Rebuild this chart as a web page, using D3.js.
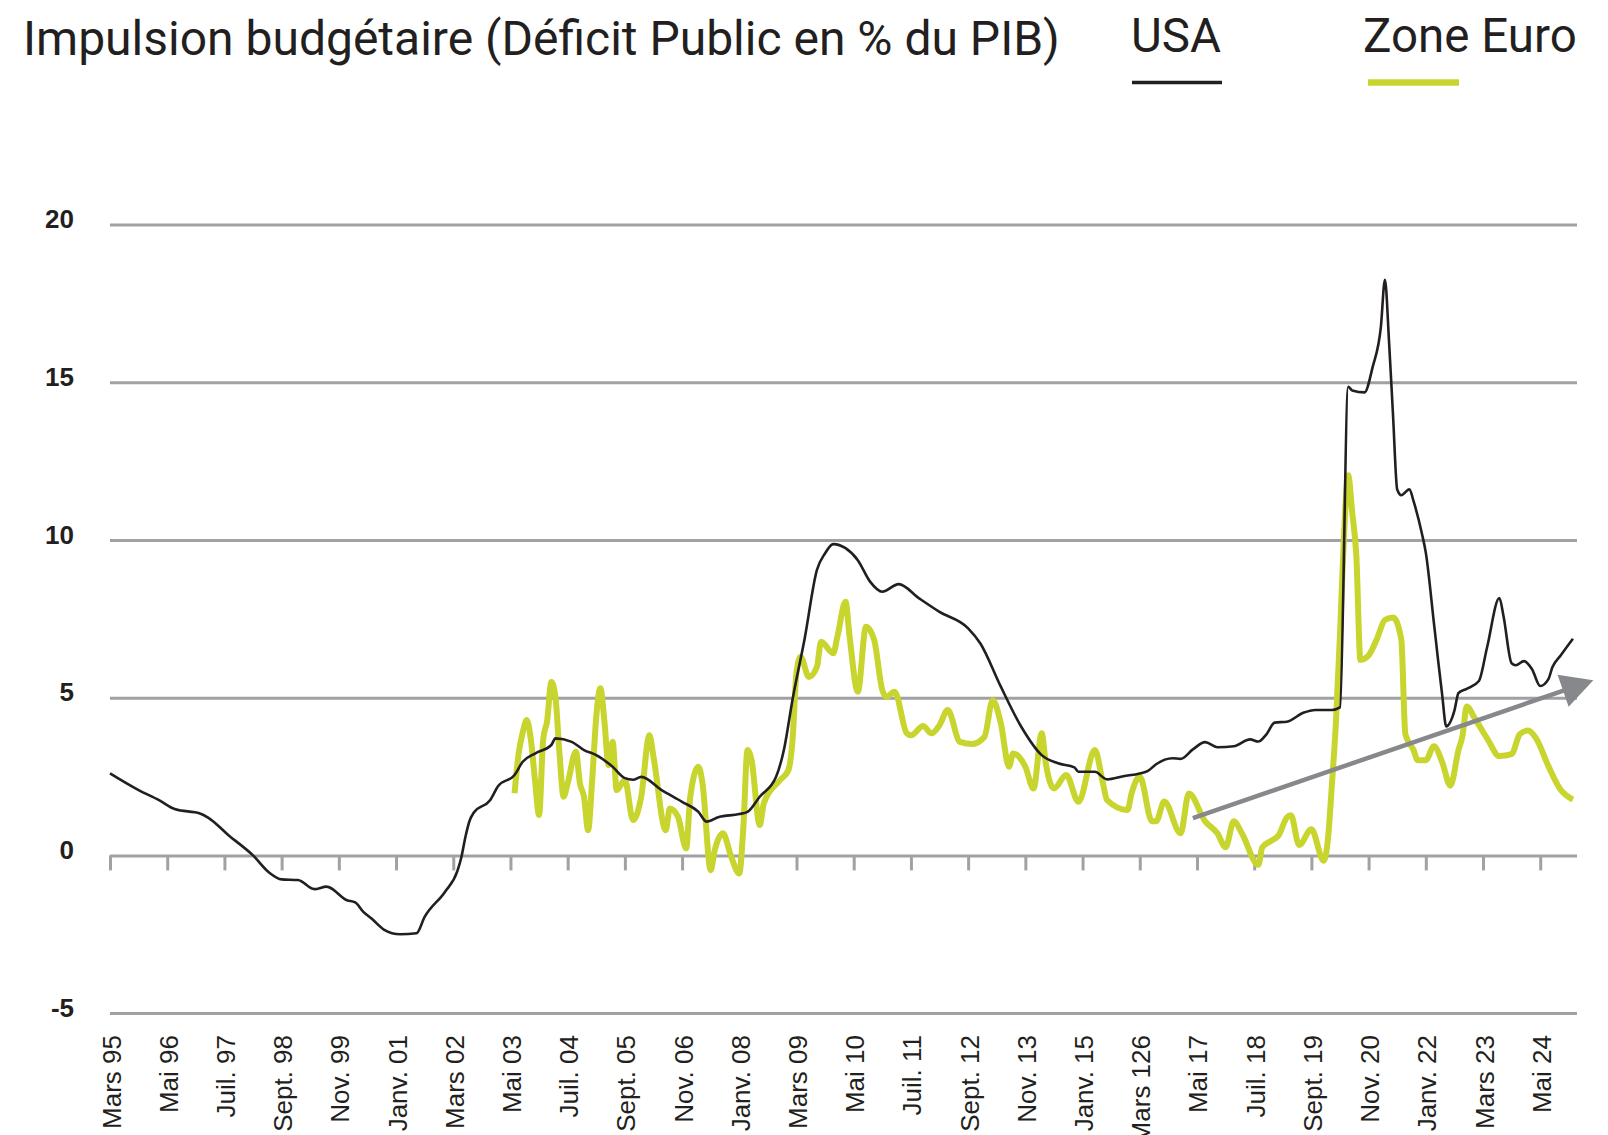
<!DOCTYPE html>
<html><head><meta charset="utf-8">
<script src="https://cdn.jsdelivr.net/npm/d3@7"></script>
<style>html,body{margin:0;padding:0;background:#fff;} svg{display:block;}</style>
</head><body>
<svg id="chart" width="1608" height="1135"></svg>
<script>
// ---------- DATA ----------
const chartTitle = "Impulsion budgétaire (Déficit Public en % du PIB)";
const seriesNames = ["USA", "Zone Euro"];

const usaMonths = ["1995-03","1995-10","1996-03","1996-07","1997-01","1997-03","1997-08","1998-02","1998-06","1998-09",
"1999-01","1999-05","1999-08","2000-01","2000-03","2000-05","2000-07","2000-10","2001-02","2001-06","2001-08",
"2002-01","2002-04","2002-05","2002-06","2002-07","2002-08","2002-12","2003-02","2003-06","2003-08","2003-11",
"2004-03","2004-04","2004-08","2004-11","2005-02","2005-06","2005-09","2005-11","2006-01","2006-06","2006-11",
"2007-03","2007-05","2007-08","2008-01","2008-03","2008-06","2008-10","2008-12","2009-02","2009-05","2009-08",
"2009-10","2009-12","2010-03","2010-06","2010-09","2010-12","2011-04","2011-09","2012-02","2012-09","2012-12",
"2013-05","2013-10","2014-03","2014-07","2014-11","2014-12","2015-04","2015-07","2015-11","2016-03","2016-05",
"2016-07","2016-11","2017-01","2017-04","2017-07","2017-10","2018-02","2018-06","2018-08","2018-10","2018-12",
"2019-03","2019-07","2019-10","2020-02","2020-04","2020-06","2020-07","2020-10","2020-12","2021-02","2021-03",
"2021-04","2021-05","2021-06","2021-07","2021-09","2021-10","2021-12","2022-01","2022-03","2022-04","2022-05",
"2022-06","2022-08","2022-09","2022-11","2023-02","2023-04","2023-07","2023-08","2023-10","2023-11","2024-01",
"2024-03","2024-05","2024-07","2024-08","2024-10","2025-01"];
const usaValues = [2.6,2.07,1.75,1.46,1.33,1.2,0.64,0.0,-0.55,-0.76,
-0.78,-1.07,-0.99,-1.42,-1.49,-1.79,-2.0,-2.35,-2.5,-2.47,-1.95,
-1.15,-0.5,-0.05,0.6,1.1,1.35,1.75,2.2,2.55,2.97,3.23,
3.5,3.71,3.6,3.34,3.18,2.81,2.45,2.4,2.49,2.07,1.7,
1.38,1.07,1.22,1.31,1.38,1.86,2.49,3.4,4.92,6.88,9.05,
9.58,9.87,9.74,9.36,8.68,8.36,8.6,8.15,7.72,7.2,6.72,
5.35,4.08,3.18,2.92,2.79,2.65,2.65,2.41,2.51,2.6,2.68,
2.89,3.08,3.06,3.36,3.59,3.43,3.46,3.68,3.61,3.84,4.21,
4.24,4.52,4.61,4.61,4.69,14.86,14.74,14.68,15.49,16.75,18.25,
16.3,13.9,11.6,11.42,11.61,11.23,10.23,9.6,7.35,6.2,5.1,
4.09,4.59,5.15,5.28,5.53,6.6,8.16,7.6,6.09,6.03,6.16,
5.9,5.37,5.59,5.97,6.34,6.87];

const euroMonths = ["2003-06","2003-07","2003-08","2003-09","2003-10","2003-11","2003-12","2004-01","2004-02","2004-03",
"2004-04","2004-05","2004-06","2004-07","2004-09","2004-10","2004-11","2004-12","2005-01","2005-02","2005-03",
"2005-04","2005-05","2005-06","2005-07","2005-09","2005-11","2006-01","2006-03","2006-04","2006-07","2006-08",
"2006-10","2006-12","2007-01","2007-03","2007-04","2007-06","2007-07","2007-09","2007-11","2008-01","2008-02",
"2008-03","2008-04","2008-06","2008-07","2008-11","2009-01","2009-02","2009-03","2009-04","2009-06","2009-08",
"2009-09","2009-12","2010-01","2010-03","2010-04","2010-06","2010-08","2010-10","2010-12","2011-01","2011-03",
"2011-06","2011-07","2011-10","2011-12","2012-02","2012-04","2012-07","2012-10","2013-01","2013-03","2013-05",
"2013-07","2013-08","2013-11","2014-01","2014-03","2014-04","2014-06","2014-09","2014-12","2015-04","2015-06",
"2015-07","2015-12","2016-01","2016-03","2016-06","2016-07","2016-09","2017-01","2017-03","2017-07","2017-10",
"2017-12","2018-02","2018-04","2018-08","2018-09","2018-11","2019-01","2019-03","2019-04","2019-06","2019-09",
"2019-12","2020-01","2020-02","2020-03","2020-04","2020-05","2020-06","2020-07","2020-08","2020-09","2020-11",
"2021-01","2021-03","2021-05","2021-07","2021-08","2021-10","2021-11","2022-01","2022-03","2022-05","2022-07",
"2022-09","2022-10","2022-11","2023-01","2023-04","2023-07","2023-10","2023-12","2024-02","2024-04","2024-07",
"2024-10","2025-01"];
const euroValues = [1.97,3.23,3.9,4.29,3.66,2.39,1.28,3.66,4.29,5.5,
5.03,3.23,1.86,2.28,3.29,2.28,1.86,0.8,2.39,4.4,5.3,
4.24,2.86,3.6,2.07,2.39,1.12,1.86,3.81,3.13,0.8,1.49,
1.22,0.22,1.86,2.81,2.28,-0.47,0.17,0.7,-0.04,-0.57,0.91,
3.34,3.02,0.96,1.65,2.39,2.7,3.6,5.8,6.3,5.66,5.98,
6.77,6.41,6.93,8.04,6.93,5.19,7.25,6.83,5.24,5.03,5.19,
3.87,3.81,4.1,3.87,4.13,4.61,3.6,3.53,3.76,4.92,4.19,
2.81,3.23,2.81,2.12,3.87,2.92,2.12,2.55,1.7,3.34,2.28,
1.75,1.44,1.97,2.5,1.08,1.08,1.71,0.7,1.96,1.08,0.7,
0.26,1.08,0.7,-0.3,0.26,0.45,0.64,1.2,1.27,0.33,0.83,
-0.17,0.45,2.2,4.2,7.0,10.2,12.05,10.86,9.5,6.2,6.34,
6.85,7.47,7.54,6.85,3.84,3.34,3.02,3.02,3.46,2.96,2.21,
3.34,3.8,4.72,4.34,3.71,3.15,3.21,3.84,3.96,3.71,2.83,
2.08,1.77];

const tickMonths = ["1995-03","1996-05","1997-07","1998-09","1999-11","2001-01","2002-03","2003-05","2004-07",
"2005-09","2006-11","2008-01","2009-03","2010-05","2011-07","2012-09","2013-11","2015-01","2016-03","2017-05",
"2018-07","2019-09","2020-11","2022-01","2023-03","2024-05"];
const tickLabels = ["Mars 95","Mai 96","Juil. 97","Sept. 98","Nov. 99","Janv. 01","Mars 02","Mai 03","Juil. 04",
"Sept. 05","Nov. 06","Janv. 08","Mars 09","Mai 10","Juil. 11","Sept. 12","Nov. 13","Janv. 15","Mars 126","Mai 17",
"Juil. 18","Sept. 19","Nov. 20","Janv. 22","Mars 23","Mai 24"];
const yTicks = [-5, 0, 5, 10, 15, 20];
const axisStart = "1995-03", axisEnd = "2025-02";
const trendArrow = {fromMonth: "2017-04", fromValue: 1.18, toMonth: "2025-06", toValue: 5.55};

// ---------- STYLE ----------
const COL_USA = "#231f20", COL_EURO = "#c8d52e", COL_GRID = "#a1a1a4", COL_ARROW = "#87888c", COL_TEXT = "#231f20";

function monthIndex(s) { const [yy, mm] = s.split("-").map(Number); return (yy - 1995) * 12 + (mm - 3); }

const svg = d3.select("#chart");
const left = 110, right = 1577;
const x = d3.scaleLinear().domain([monthIndex(axisStart), monthIndex(axisEnd)]).range([left, right]);
const y = d3.scaleLinear().domain([-5, 20]).range([1013.1, 224.6]);

// Title
svg.append("text").attr("x", 23).attr("y", 55)
  .attr("font-family", "Roboto").attr("font-size", 48).attr("fill", COL_TEXT)
  .text(chartTitle);

// Legend
const legend = [
  {name: seriesNames[0], color: COL_USA, tx: 1131, lx1: 1132, lx2: 1222, lw: 3.3},
  {name: seriesNames[1], color: COL_EURO, tx: 1363, lx1: 1368, lx2: 1459, lw: 6.5}
];
legend.forEach(l => {
  svg.append("text").attr("x", l.tx).attr("y", 52)
    .attr("font-family", "Roboto").attr("font-size", 47.5).attr("fill", COL_TEXT).text(l.name);
  svg.append("line").attr("x1", l.lx1).attr("x2", l.lx2).attr("y1", 82.5).attr("y2", 82.5)
    .attr("stroke", l.color).attr("stroke-width", l.lw);
});

// Y axis with gridlines
const gy = svg.append("g").attr("transform", `translate(${left},0)`)
  .call(d3.axisLeft(y).tickValues(yTicks).tickSize(-(right - left)).tickPadding(36).tickFormat(d => String(d)));
gy.select(".domain").remove();
gy.selectAll(".tick line").attr("stroke", COL_GRID).attr("stroke-width", 3);
gy.selectAll(".tick text").attr("dy", 3).attr("fill", COL_TEXT)
  .attr("font-family", "Liberation Sans, Arial, sans-serif").attr("font-weight", "bold").attr("font-size", 26);

// X axis ticks on zero line
const gx = svg.append("g").attr("transform", `translate(0,${y(0)})`)
  .call(d3.axisBottom(x).tickValues(tickMonths.map(monthIndex)).tickSize(15).tickFormat((d, i) => tickLabels[i]));
gx.select(".domain").remove();
gx.selectAll(".tick line").attr("stroke", COL_GRID).attr("stroke-width", 3);
gx.selectAll(".tick text")
  .attr("x", null).attr("y", null).attr("dy", null)
  .attr("text-anchor", "end")
  .attr("transform", `translate(10,${1035 - y(0)}) rotate(-90)`)
  .attr("fill", COL_TEXT).attr("font-family", "Liberation Sans, Arial, sans-serif").attr("font-size", 26);

// Lines
const line = d3.line().x(d => x(monthIndex(d.m))).y(d => y(d.v)).curve(d3.curveMonotoneX);
const euro = euroMonths.map((m, i) => ({m, v: euroValues[i]}));
const usa = usaMonths.map((m, i) => ({m, v: usaValues[i]}));

svg.append("path").datum(euro).attr("d", line).attr("fill", "none")
  .attr("stroke", COL_EURO).attr("stroke-width", 6).attr("stroke-linejoin", "round");
svg.append("path").datum(usa).attr("d", line).attr("fill", "none")
  .attr("stroke", COL_USA).attr("stroke-width", 2.6).attr("stroke-linejoin", "round");

// Trend arrow
const ax1 = x(monthIndex(trendArrow.fromMonth)), ay1 = y(trendArrow.fromValue);
const ax2 = x(monthIndex(trendArrow.toMonth)), ay2 = y(trendArrow.toValue);
const dx = ax2 - ax1, dy = ay2 - ay1, len = Math.hypot(dx, dy);
const ux = dx / len, uy = dy / len, headLen = 32, headHalf = 17;
const bx = ax2 - ux * headLen, by = ay2 - uy * headLen;
svg.append("line").attr("x1", ax1).attr("y1", ay1).attr("x2", bx + ux * 2).attr("y2", by + uy * 2)
  .attr("stroke", COL_ARROW).attr("stroke-width", 4.5);
svg.append("polygon")
  .attr("points", [[ax2, ay2], [bx - uy * headHalf, by + ux * headHalf], [bx + uy * headHalf, by - ux * headHalf]].map(p => p.join(",")).join(" "))
  .attr("fill", COL_ARROW);
</script>
</body></html>
